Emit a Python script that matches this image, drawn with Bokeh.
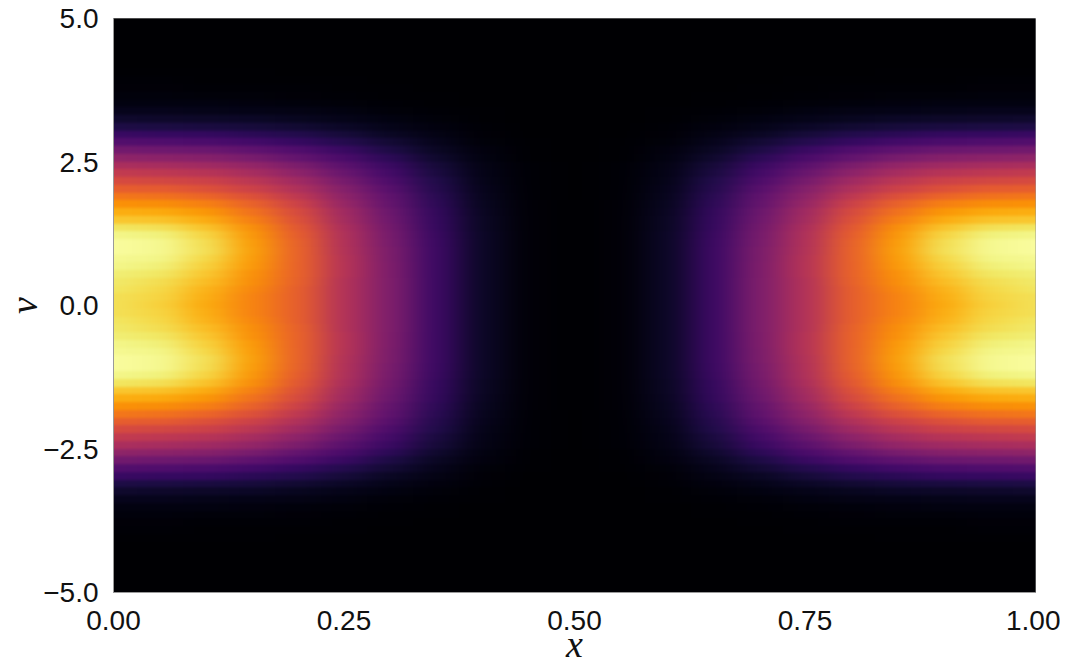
import numpy as np
from bokeh.plotting import figure
from bokeh.io import curdoc
from bokeh.embed import file_html
from bokeh.resources import INLINE
from bokeh.models import LinearColorMapper, FixedTicker, CustomJS
from bokeh.palettes import Inferno256

x_ticks = [0.0, 0.25, 0.5, 0.75, 1.0]
x_labels = ["0.00", "0.25", "0.50", "0.75", "1.00"]
v_ticks = [-5.0, -2.5, 0.0, 2.5, 5.0]
v_labels = ["\u22125.0", "\u22122.5", "0.0", "2.5", "5.0"]

density_half = [
    [.92, .89, .81, .73, .64, .48, .35, .19, .07, .015, 0],
    [.92, .895, .82, .73, .64, .48, .35, .19, .07, .015, 0],
    [.93, .905, .83, .74, .64, .48, .35, .19, .07, .015, 0],
    [.94, .915, .85, .75, .645, .48, .35, .19, .07, .015, 0],
    [.95, .935, .87, .76, .65, .485, .345, .19, .07, .015, 0],
    [.97, .955, .89, .775, .65, .485, .345, .19, .07, .015, 0],
    [.98, .97, .905, .785, .65, .485, .34, .19, .07, .015, 0],
    [.99, .98, .92, .79, .65, .48, .34, .19, .07, .015, 0],
    [.99, .98, .915, .785, .645, .475, .335, .185, .07, .015, 0],
    [.97, .96, .895, .77, .635, .47, .33, .18, .068, .014, 0],
    [.93, .92, .86, .75, .62, .46, .32, .175, .066, .014, 0],
    [.87, .86, .815, .72, .60, .445, .31, .17, .064, .013, 0],
    [.82, .81, .77, .69, .58, .43, .30, .165, .062, .013, 0],
    [.76, .75, .72, .65, .55, .41, .285, .155, .058, .012, 0],
    [.70, .69, .66, .60, .51, .385, .27, .145, .054, .011, 0],
    [.64, .63, .60, .55, .47, .36, .25, .135, .05, .01, 0],
    [.58, .57, .55, .50, .43, .33, .23, .125, .046, .01, 0],
    [.52, .51, .49, .45, .385, .295, .205, .11, .042, .009, 0],
    [.46, .45, .43, .40, .34, .26, .18, .10, .037, .008, 0],
    [.39, .38, .365, .335, .285, .22, .15, .082, .031, .007, 0],
    [.32, .31, .30, .27, .235, .18, .12, .065, .025, .005, 0],
    [.24, .235, .225, .205, .175, .135, .09, .05, .019, .004, 0],
    [.18, .175, .17, .15, .13, .10, .065, .037, .014, .003, 0],
    [.12, .117, .113, .103, .087, .067, .045, .025, .009, .002, 0],
    [.08, .078, .074, .068, .058, .044, .03, .017, .006, .001, 0],
    [.05, .049, .046, .042, .036, .028, .018, .01, .004, .001, 0],
    [.03, .03, .028, .025, .022, .017, .011, .006, .002, 0, 0],
    [.02, .02, .018, .017, .014, .011, .007, .004, .001, 0, 0],
    [.012, .012, .011, .01, .009, .007, .004, .002, .001, 0, 0],
    [.008, .008, .007, .007, .006, .004, .003, .002, 0, 0, 0],
    [.005, .005, .004, .004, .003, .002, .002, .001, 0, 0, 0],
    [.002, .002, .002, .002, .001, .001, 0, 0, 0, 0, 0],
    [.001, .001, .001, .001, 0, 0, 0, 0, 0, 0, 0],
    [0, 0, 0, 0, 0, 0, 0, 0, 0, 0, 0],
    [0, 0, 0, 0, 0, 0, 0, 0, 0, 0, 0],
    [0, 0, 0, 0, 0, 0, 0, 0, 0, 0, 0],
    [0, 0, 0, 0, 0, 0, 0, 0, 0, 0, 0],
    [0, 0, 0, 0, 0, 0, 0, 0, 0, 0, 0],
]

half = np.array(density_half, dtype=float)
quarter = np.concatenate([half[::-1][:-1], half], axis=0)          # v = -5 .. 5
grid = np.concatenate([quarter, quarter[:, ::-1][:, 1:]], axis=1)  # x = 0 .. 1

# x is periodic and the v edges are empty: continue the field past the frame so the
# softening below has something to blend with at the frame's edge.
n_rows, n_cols = grid.shape
pad_cols, pad_rows = 4, 8
field = np.pad(grid, ((pad_rows, pad_rows), (pad_cols, pad_cols)), mode="edge")
cell_x, cell_v = 1 / (n_cols - 1), 10 / (n_rows - 1)

p = figure(frame_width=922, frame_height=574, x_range=(0, 1), y_range=(-5, 5),
           output_backend="svg", toolbar_location=None,
           min_border_left=112, min_border_right=25, min_border_top=18, min_border_bottom=40,
           background_fill_color="white")
mapper = LinearColorMapper(palette=Inferno256, low=0, high=1)
p.image(image=[field], x=-(pad_cols + .5) * cell_x, y=-5 - (pad_rows + .5) * cell_v,
        dw=(n_cols + 2 * pad_cols) * cell_x, dh=(n_rows + 2 * pad_rows) * cell_v, color_mapper=mapper)

p.grid.visible = False
p.outline_line_color = "#9a9a9a"
p.xaxis.ticker = FixedTicker(ticks=x_ticks)
p.yaxis.ticker = FixedTicker(ticks=v_ticks)
p.xaxis.major_label_overrides = dict(zip(x_ticks, x_labels))
p.yaxis.major_label_overrides = dict(zip(v_ticks, v_labels))
for ax in (p.xaxis[0], p.yaxis[0]):
    ax.axis_line_color = "#9a9a9a"
    ax.major_tick_line_color = None
    ax.major_tick_out = 0
    ax.major_tick_in = 0
    ax.minor_tick_line_color = None
    ax.major_label_text_font = "Liberation Sans"
    ax.major_label_text_font_size = "28px"
    ax.major_label_text_color = "#111111"
    ax.axis_label_text_font = "Liberation Serif"
    ax.axis_label_text_font_style = "italic"
    ax.axis_label_text_font_size = "38px"
    ax.axis_label_text_color = "#111111"
    ax.axis_label_text_line_height = 0.8
p.xaxis.axis_label = "x"
p.yaxis.axis_label = "v"
p.xaxis.major_label_standoff = 18
p.yaxis.major_label_standoff = 15
p.xaxis.axis_label_standoff = -10
p.yaxis.axis_label_standoff = -5
p.xaxis.axis_label_text_baseline = "top"
p.yaxis.axis_label_text_baseline = "bottom"

# soften the raster as in the blurred original (mostly along x, where the table is coarse)
smooth = CustomJS(code="""
const NS = 'http://www.w3.org/2000/svg';
function walk(root) {
  root.querySelectorAll('*').forEach(el => {
    if (el.tagName.toLowerCase() === 'image' && !el.getAttribute('filter')) {
      const svg = el.ownerSVGElement;
      const f = document.createElementNS(NS, 'filter');
      f.setAttribute('id', 'soft');
      f.setAttribute('color-interpolation-filters', 'sRGB');
      const b = document.createElementNS(NS, 'feGaussianBlur');
      b.setAttribute('stdDeviation', '16 1.6');
      f.appendChild(b);
      svg.appendChild(f);
      el.setAttribute('filter', 'url(#soft)');
    }
    if (el.shadowRoot) walk(el.shadowRoot);
  });
}
let n = 0;
const t = setInterval(() => { walk(document); if (++n > 40) clearInterval(t); }, 25);
""")
doc = curdoc()
doc.add_root(p)
doc.js_on_event("document_ready", smooth)

open("out.html", "w").write(file_html(p, INLINE))
